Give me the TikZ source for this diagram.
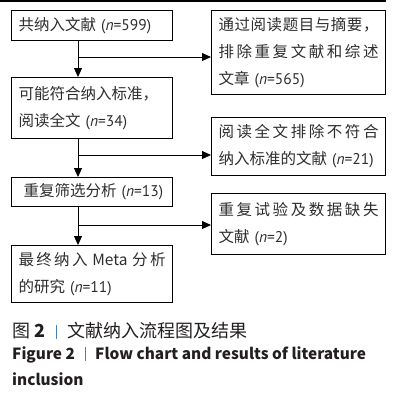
\documentclass[tikz,border=0pt]{standalone}
\usepackage{fontspec}
\setmainfont{Noto Sans CJK SC}
\newfontfamily\latinf{PT Sans}
\usetikzlibrary{arrows.meta,positioning}
\definecolor{flowtext}{RGB}{45,45,45}
\definecolor{capgray}{RGB}{35,31,32}
\definecolor{capblue}{RGB}{70,130,185}
\newcommand{\nval}[1]{{\latinf(\textit{n}=#1)}}
\newcommand{\spreadline}[1]{\makebox[\hsize][s]{\spaceskip=0pt plus 1fil\relax #1}}
\newcommand{\capbar}{\textcolor{capblue}{\rule[-2pt]{1pt}{14pt}}}
\tikzset{
  lblk/.style={rectangle, draw, line width=1.1pt, text=flowtext, align=left, anchor=north west,
               font=\fontsize{15.5}{27}\selectfont, text width=147pt, inner xsep=7pt, inner ysep=0pt},
  rblk/.style={lblk, text width=160pt},
  farr/.style={-{Triangle[length=9pt,width=8pt]}, line width=1pt},
  capt/.style={anchor=base west, inner sep=0pt, text=capgray},
}

\begin{document}
\begin{tikzpicture}[x=1pt, y=-1pt]
        \useasboundingbox (0,0) rectangle (407,405);
        \draw[line width=1.5pt] (0,1) -- (386,1);
        % left column
        \node[lblk, minimum height=30pt](total) at (11,10){共纳入文献 \nval{599}};
        \node[lblk, minimum height=61pt](fulltext) at (11,77){可能符合纳入标准，\\阅读全文 \nval{34}};
        \node[lblk, minimum height=29pt](rescreen) at (11,177){\hspace*{5pt}重复筛选分析 \nval{13}};
        \node[lblk, minimum height=57pt](final) at (11,245){\spreadline{最 终 纳 入 \ Meta \ 分 析}\\的研究 \nval{11}};
        % right column
        \node[rblk, minimum height=84pt](exclone) at (211,10){\spreadline{通 过 阅 读 题 目 与 摘 要 ，}\\\spreadline{排 除 重 复 文 献 和 综 述}\\文章 \nval{565}};
        \node[rblk, minimum height=58pt](excltwo) at (211,117){\spreadline{阅 读 全 文 排 除 不 符 合}\\纳入标准的文献 \nval{21}};
        \node[rblk, minimum height=61pt](exclthree) at (211,193){\spreadline{重 复 试 验 及 数 据 缺 失}\\文献 \nval{2}};
        % connectors
        \coordinate (spine) at (78,0);
        \coordinate (kone) at (78,57);
        \coordinate (ktwo) at (78,155);
        \coordinate (kthree) at (78,225);
        \draw[farr](total.south -| spine)--(fulltext.north -| spine);
        \draw[farr](fulltext.south -| spine)--(rescreen.north -| spine);
        \draw[farr](rescreen.south -| spine)--(final.north -| spine);
        \draw[farr](kone)--(kone -| exclone.west);
        \draw[farr](ktwo)--(ktwo -| excltwo.west);
        \draw[farr](kthree)--(kthree -| exclthree.west);
        % caption
        \node[capt, font=\fontsize{18}{20}\selectfont](capcn) at (12,337){\makebox[44pt][l]{图 \textbf{2}}\capbar\hspace{10pt}文献纳入流程图及结果};
        \node[capt, font=\fontsize{15.4}{20}\selectfont\bfseries](capen) at (12,359){\makebox[73pt][l]{Figure 2}\capbar\hspace{9pt}Flow chart and results of literature};
        \node[capt, font=\fontsize{15.4}{20}\selectfont\bfseries](capentwo) at (12,385){inclusion};
    \end{tikzpicture}
\end{document}
